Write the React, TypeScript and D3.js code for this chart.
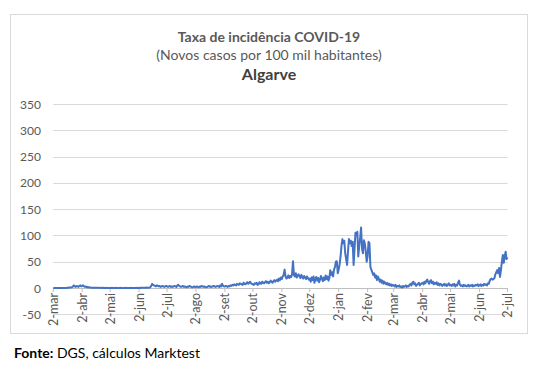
import React from "react";
import * as d3 from "d3";

const W = 540;
const H = 375;

const titleLines = ["Taxa de incidência COVID-19", "(Novos casos por 100 mil habitantes)", "Algarve"];
const yTicks = [-50, 0, 50, 100, 150, 200, 250, 300, 350];
const xTickLabels = [
  "2-mar", "2-abr", "2-mai", "2-jun", "2-jul", "2-ago", "2-set", "2-out", "2-nov",
  "2-dez", "2-jan", "2-fev", "2-mar", "2-abr", "2-mai", "2-jun", "2-jul",
];
const startDate = new Date(2020, 2, 2);
const endDate = new Date(2021, 6, 2);

// daily incidence values from 2-mar-2020 to 2-jul-2021
const mar20 = [0,0,0,0,0,0,0,0,0,0,0,0,0,0,0,0.3,0.5,0.8,1,1.2,1.5,2.5,5,3,2,4,3.5,2,4,5,3];
const abr20 = [4,5,3,2,3,1.5,2,1,1,0.8,0.5,0.6,0.5,0.4,0.6,0.3,0.4,0.5,0.3,0.2,0.3,0.4,0.2,0.3,0.2,0.1,0.3,0.2,0.2,0.1];
const mai20 = [0.2,0.1,0.3,0.2,0.1,0.2,0.3,0.1,0.2,0.1,0.2,0.3,0.1,0.2,0.1,0.2,0.1,0.3,0.2,0.1,0.2,0.1,0.3,0.2,0.1,0.2,0.1,0.2,0.3,0.2,0.1];
const jun20 = [0.3,0.2,0.5,0.3,0.4,0.6,0.3,0.5,0.8,0.4,0.6,1,1.5,4,8,6,5,4,3,5,4,3,4,2,3,4,3,2,3,4];
const jul20 = [3,2,3,4,2,3,2,3,4,3,2,5,6,4,3,2,3,4,2,3,2,1.5,3,2,4,3,2,1.5,2,3,2];
const ago20 = [2,3,2,1.5,3,2,4,3,2,3,2,1.5,2,3,4,2,3,2,3,4,3,2,3,4,3,2,5,3,8,4,3];
const set20 = [3,4,3,2,4,3,5,4,6,5,7,6,5,8,7,6,9,8,7,6,10,8,7,9,11,8,10,12,9,8];
const out20 = [7,6,9,8,10,6,7,11,9,8,12,10,9,11,13,10,12,9,11,14,12,10,13,15,12,14,16,13,18,15,20];
const nov20 = [17,22,25,35,22,18,20,24,19,23,21,26,51,25,22,28,20,24,26,22,19,25,21,18,23,20,17,22,19,16];
const dez20 = [18,12,20,15,22,10,17,21,14,19,11,16,23,18,13,20,15,24,17,22,14,19,34,25,30,22,35,40,50,51,28];
const jan21 = [35,45,60,80,93,85,90,66,55,44,70,93,85,90,80,88,44,75,105,100,107,60,80,95,115,75,66,91,85,70,50];
const fev21 = [60,88,85,40,35,30,25,28,20,24,15,22,18,12,16,10,14,8,12,9,7,10,6,8,5,7,4,6];
const mar21 = [5,3,6,2,4,3,5,2,3,1,4,2,3,5,2,4,3,6,8,5,10,12,7,9,4,6,8,10,5,7,9];
const abr21 = [10,7,12,9,14,16,11,8,13,15,9,12,7,10,8,11,6,9,5,8,7,4,6,8,5,7,4,6,9,5];
const mai21 = [6,4,7,5,8,3,6,5,10,14,6,4,5,3,6,4,5,3,4,6,3,5,4,6,3,5,4,6,5,7,4];
const jun21 = [5,7,4,6,5,8,6,7,5,9,8,14,17,18,16,17,19,26,30,34,28,38,21,35,50,63,48,60,69,55,58];

const values = [
  ...mar20, ...abr20, ...mai20, ...jun20, ...jul20, ...ago20, ...set20, ...out20,
  ...nov20, ...dez20, ...jan21, ...fev21, ...mar21, ...abr21, ...mai21, ...jun21,
];

const FONT = "Lato, 'Open Sans', sans-serif";

export default function App() {
  const plotLeft = 53.3;
  const plotRight = 507.5;
  const x = d3.scaleTime().domain([startDate, endDate]).range([plotLeft, plotRight]);
  const y = d3.scaleLinear().domain([-50, 350]).range([314.3, 104]);

  const data = values.map((v, i) => ({ d: d3.timeDay.offset(startDate, i), v }));
  const line = d3
    .line<{ d: Date; v: number }>()
    .x((p) => x(p.d))
    .y((p) => y(p.v));

  const tickDates = xTickLabels.map((_, i) => d3.timeMonth.offset(startDate, i));

  return (
    <svg width={W} height={H} style={{ display: "block", position: "absolute", left: 0, top: 0 }}>
      <rect x={0} y={0} width={W} height={H} fill="#ffffff" />
      <rect x={10.5} y={14.5} width={517} height={319} fill="#ffffff" stroke="#d9d9d9" strokeWidth={1} />
      <text x={269} y={42} textAnchor="middle" fontFamily={FONT} fontSize={14} fontWeight="bold" fill="#595959">
        {titleLines[0]}
      </text>
      <text x={269} y={60} textAnchor="middle" fontFamily={FONT} fontSize={14} fill="#595959">
        {titleLines[1]}
      </text>
      <text x={269} y={80} textAnchor="middle" fontFamily={FONT} fontSize={16} fontWeight="bold" fill="#404040">
        {titleLines[2]}
      </text>
      {yTicks.map((t) => (
        <g key={t}>
          {t !== 0 && (
            <line x1={plotLeft} x2={plotRight} y1={Math.round(y(t)) + 0.5} y2={Math.round(y(t)) + 0.5} stroke="#d9d9d9" strokeWidth={1} />
          )}
          <text x={41} y={y(t) + 4.5} textAnchor="end" fontFamily={FONT} fontSize={12} fill="#595959">
            {t}
          </text>
        </g>
      ))}
      <line x1={plotLeft} x2={plotRight} y1={Math.round(y(0)) + 0.5} y2={Math.round(y(0)) + 0.5} stroke="#bfbfbf" strokeWidth={1} />
      {tickDates.map((d, i) => (
        <g key={i} transform={`translate(${x(d)},0)`}>
          <line x1={0} x2={0} y1={y(0)} y2={y(0) + 4} stroke="#bfbfbf" strokeWidth={1} />
          <text
            transform={`translate(4.5, ${y(0) + 5}) rotate(-90)`}
            textAnchor="end"
            fontFamily={FONT}
            fontSize={12.5}
            fill="#595959"
          >
            {xTickLabels[i]}
          </text>
        </g>
      ))}
      <path d={line(data) || ""} fill="none" stroke="#4472c4" strokeWidth={2} strokeLinejoin="round" />
      <text x={14} y={358} fontFamily={FONT} fontSize={14} fill="#000000">
        <tspan fontWeight="bold">Fonte:</tspan>
        <tspan> DGS, cálculos Marktest</tspan>
      </text>
    </svg>
  );
}
